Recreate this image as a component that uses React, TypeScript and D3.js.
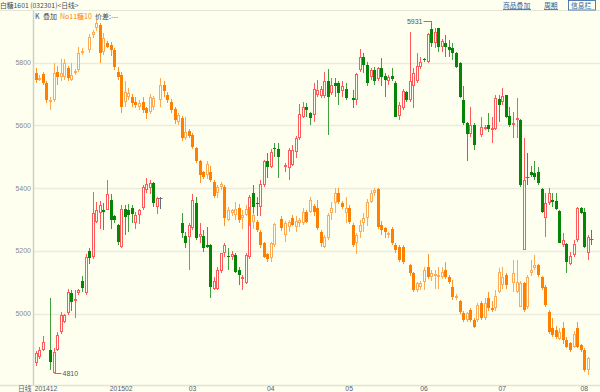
import React from "react";
import * as d3 from "d3";

type K = [number, number, number, number] | null; // open, high, low, close

// 白糖1601 daily candles (open, high, low, close); null = no trading that day
const mainK: K[] = [
  [4844, 4880, 4835, 4874], [4861, 4895, 4855, 4884], [4884, 4929, 4880, 4911], null,
  [4884, 5049, 4820, 4847], [4812, 4890, 4810, 4879], [4884, 4943, 4880, 4932], [4943, 5005, 4935, 4996],
  [4975, 5000, 4970, 4996], [5001, 5080, 4995, 5070], [5065, 5075, 5010, 5038], [5042, 5075, 4985, 5046],
  [5065, 5080, 5060, 5075], [5104, 5120, 5070, 5081], [5065, 5190, 5060, 5182], [5200, 5210, 5160, 5177],
  [5182, 5389, 5175, 5320], [5293, 5355, 5290, 5330], [5320, 5360, 5270, 5348], [5332, 5352, 5267, 5325],
  [5330, 5426, 5330, 5380], [5362, 5380, 5270, 5299], [5311, 5315, 5290, 5299], [5283, 5285, 5220, 5230],
  [5214, 5345, 5210, 5333], [5333, 5345, 5250, 5309], [5330, 5350, 5260, 5314], [5336, 5345, 5290, 5318],
  [5288, 5325, 5270, 5315], [5314, 5335, 5285, 5330], [5336, 5410, 5330, 5405], [5394, 5431, 5385, 5413],
  [5400, 5425, 5380, 5415], [5415, 5420, 5340, 5352], [5341, 5372, 5318, 5368], [5368, 5372, 5335, 5368],
  null, null, null, null, null,
  [5290, 5322, 5240, 5258], [5248, 5261, 5208, 5224], [5244, 5290, 5139, 5283], [5272, 5380, 5267, 5362],
  [5352, 5371, 5235, 5242], [5246, 5288, 5224, 5254], [5249, 5267, 5198, 5208], [5218, 5277, 5208, 5214],
  [5219, 5222, 5049, 5084], [5078, 5118, 5075, 5105], [5078, 5150, 5075, 5139], [5137, 5195, 5129, 5192],
  [5192, 5224, 5182, 5219], [5184, 5208, 5139, 5180], [5182, 5201, 5171, 5190], [5187, 5192, 5129, 5134],
  [5139, 5150, 5091, 5123], [5110, 5123, 5075, 5118], [5097, 5192, 5095, 5187], [5182, 5378, 5175, 5373],
  [5386, 5410, 5277, 5341], [5354, 5373, 5310, 5350], [5341, 5426, 5310, 5413], [5410, 5490, 5405, 5485],
  [5488, 5511, 5431, 5469], [5469, 5524, 5463, 5516], [5528, 5543, 5500, 5524], [5524, 5545, 5431, 5500],
  null,
  [5468, 5479, 5453, 5474], [5463, 5527, 5426, 5522], [5474, 5538, 5471, 5522], [5516, 5565, 5495, 5561],
  [5559, 5668, 5554, 5636], [5628, 5676, 5623, 5658], [5660, 5670, 5628, 5649], [5639, 5644, 5601, 5623],
  [5633, 5736, 5612, 5716], [5697, 5745, 5692, 5713], [5694, 5725, 5688, 5715], [5694, 5771, 5686, 5743],
  [5740, 5779, 5570, 5692], [5702, 5750, 5697, 5729], [5736, 5750, 5692, 5724], [5736, 5743, 5665, 5702],
  [5708, 5740, 5692, 5724], [5715, 5734, 5681, 5686], null,
  [5686, 5713, 5655, 5682], [5681, 5766, 5665, 5763], [5777, 5843, 5771, 5819], [5819, 5830, 5766, 5793],
  [5793, 5803, 5724, 5734], [5755, 5782, 5745, 5777], [5777, 5787, 5729, 5743], [5747, 5785, 5740, 5782],
  [5782, 5814, 5724, 5755], [5758, 5766, 5692, 5745], [5743, 5761, 5729, 5755], [5758, 5782, 5740, 5747],
  [5736, 5740, 5626, 5628], [5630, 5673, 5617, 5665], [5655, 5715, 5649, 5711], [5705, 5708, 5676, 5681],
  [5681, 5896, 5676, 5743], [5724, 5782, 5655, 5768], [5740, 5830, 5734, 5790], [5787, 5819, 5779, 5803],
  [5811, 5814, 5803, 5807], [5803, 5894, 5798, 5891], [5906, 5931, 5849, 5864], [5862, 5910, 5846, 5899],
  [5910, 5910, 5835, 5849], [5849, 5874, 5835, 5870], [5864, 5888, 5819, 5849], [5851, 5872, 5819, 5840],
  [5846, 5862, 5809, 5830], [5830, 5835, 5782, 5785], [5798, 5803, 5686, 5692], [5681, 5724, 5601, 5609],
  [5607, 5612, 5488, 5573], [5573, 5660, 5564, 5601], [5601, 5607, 5522, 5538], null,
  [5570, 5628, 5564, 5596], [5590, 5601, 5585, 5596], [5601, 5639, 5580, 5588], [5585, 5628, 5545, 5591],
  [5588, 5697, 5585, 5686], [5683, 5697, 5612, 5665], [5676, 5718, 5665, 5694], [5697, 5697, 5623, 5628],
  [5630, 5660, 5596, 5601], [5601, 5644, 5559, 5609], [5620, 5686, 5559, 5625], [5617, 5620, 5405, 5410],
  [5203, 5559, 5203, 5426], [5437, 5511, 5410, 5437], [5450, 5471, 5437, 5442], [5447, 5485, 5426, 5437],
  [5453, 5469, 5410, 5416], [5396, 5400, 5320, 5325], [5304, 5384, 5245, 5354], [5354, 5400, 5346, 5386],
  [5362, 5386, 5341, 5357], [5360, 5384, 5330, 5333], [5328, 5330, 5224, 5224], [5219, 5256, 5214, 5235],
  [5222, 5224, 5129, 5166], [5160, 5198, 5155, 5184], [5187, 5235, 5182, 5222], [5235, 5341, 5230, 5336],
  [5338, 5341, 5318, 5320], [5325, 5336, 5208, 5212], [5195, 5251, 5171, 5245], [5237, 5267, 5219, 5237],
];

// No11糖10 overlay, in the chart's plotted units
const overlayK: K[] = [
  [5766, 5782, 5734, 5745], [5748, 5760, 5740, 5752], [5763, 5770, 5728, 5734], [5734, 5740, 5670, 5681],
  [5676, 5690, 5649, 5681], [5681, 5798, 5675, 5766], [5769, 5790, 5730, 5755], [5755, 5810, 5740, 5766],
  [5755, 5810, 5745, 5798], [5782, 5790, 5740, 5750], [5745, 5800, 5740, 5760], [5766, 5780, 5760, 5774],
  [5776, 5850, 5770, 5830], [5832, 5845, 5825, 5838], null, [5840, 5890, 5830, 5883],
  [5888, 5904, 5880, 5898], [5910, 5936, 5900, 5925], [5920, 5925, 5800, 5830], [5835, 5895, 5825, 5880],
  [5862, 5870, 5845, 5851], [5856, 5865, 5820, 5840], [5840, 5845, 5775, 5787], [5771, 5785, 5745, 5755],
  [5760, 5770, 5640, 5660], [5676, 5740, 5660, 5707], [5691, 5720, 5680, 5702], [5691, 5700, 5660, 5670],
  [5676, 5690, 5655, 5665], [5660, 5680, 5650, 5670], [5676, 5690, 5640, 5649], [5654, 5660, 5620, 5638],
  [5644, 5700, 5635, 5692], [5660, 5695, 5650, 5688], null, [5681, 5750, 5660, 5729],
  [5729, 5740, 5690, 5708], [5697, 5705, 5670, 5681], [5676, 5685, 5640, 5649], [5651, 5660, 5605, 5617],
  [5612, 5640, 5600, 5633], [5623, 5630, 5550, 5559], [5559, 5628, 5554, 5580], [5583, 5590, 5560, 5566],
  [5570, 5575, 5525, 5530], [5527, 5530, 5480, 5485], [5485, 5490, 5415, 5442], [5450, 5455, 5430, 5437],
  [5442, 5485, 5430, 5477], [5453, 5470, 5420, 5426], [5421, 5425, 5370, 5376], [5384, 5410, 5370, 5405],
  [5405, 5420, 5395, 5413], [5405, 5410, 5278, 5304], [5299, 5340, 5295, 5330], [5320, 5335, 5310, 5330],
  [5314, 5355, 5300, 5333], [5336, 5350, 5290, 5299], [5304, 5330, 5270, 5314], [5314, 5345, 5310, 5333],
  [5330, 5340, 5280, 5288], [5293, 5320, 5270, 5314], [5293, 5300, 5260, 5267], [5261, 5266, 5210, 5219],
  [5224, 5230, 5176, 5182], [5189, 5192, 5165, 5173], [5176, 5228, 5165, 5224], [5219, 5290, 5214, 5286],
  null, [5301, 5310, 5265, 5272], [5251, 5294, 5230, 5288], [5277, 5298, 5262, 5293],
  [5304, 5315, 5278, 5283], [5277, 5310, 5260, 5296], [5288, 5305, 5275, 5299], [5288, 5336, 5283, 5325],
  [5325, 5330, 5288, 5293], [5325, 5373, 5320, 5362], [5343, 5350, 5310, 5325], [5336, 5362, 5267, 5272],
  [5261, 5266, 5214, 5224], [5214, 5250, 5208, 5245], [5240, 5320, 5235, 5315], [5320, 5355, 5300, 5336],
  [5352, 5400, 5320, 5384], [5384, 5400, 5350, 5357], [5352, 5360, 5335, 5341], [5320, 5373, 5290, 5336],
  [5336, 5345, 5285, 5293], [5283, 5290, 5214, 5219], [5224, 5256, 5190, 5251], [5261, 5300, 5240, 5283],
  [5288, 5320, 5260, 5304], [5304, 5365, 5280, 5357], [5357, 5395, 5352, 5386], [5384, 5400, 5375, 5394],
  [5397, 5400, 5270, 5277], [5283, 5295, 5250, 5267], [5272, 5275, 5240, 5261], [5251, 5262, 5240, 5258],
  [5269, 5275, 5219, 5224], [5219, 5224, 5195, 5203], [5214, 5219, 5165, 5171], [5214, 5219, 5160, 5166],
  null, [5155, 5160, 5120, 5129], [5129, 5134, 5070, 5075], [5075, 5102, 5070, 5097],
  [5086, 5105, 5075, 5099], [5102, 5150, 5075, 5139], [5150, 5190, 5110, 5118], [5118, 5140, 5105, 5129],
  [5120, 5140, 5080, 5128], [5121, 5150, 5080, 5125], [5118, 5150, 5110, 5134], [5139, 5165, 5110, 5118],
  [5118, 5125, 5095, 5102], [5086, 5107, 5044, 5054], [5052, 5062, 5045, 5058], [5040, 5045, 5000, 5006],
  [5003, 5010, 4975, 4980], [4980, 5005, 4975, 5001], [5012, 5018, 4975, 4980], [4980, 4985, 4953, 4959],
  [4980, 5035, 4975, 5028], [5035, 5040, 4980, 4985], [4985, 5050, 4980, 5033], [5049, 5070, 5010, 5017],
  [5019, 5040, 5005, 5012], [5017, 5075, 5010, 5056], [5070, 5145, 5065, 5134], [5092, 5150, 5080, 5118],
  [5123, 5130, 5080, 5092], null, [5097, 5170, 5070, 5129], [5070, 5171, 5065, 5102],
  [5022, 5105, 5020, 5097], [5097, 5102, 5005, 5012], [5022, 5125, 5015, 5118], [5129, 5170, 5120, 5139],
  [5145, 5187, 5140, 5155], [5155, 5160, 5118, 5123], [5118, 5120, 5075, 5081], [5086, 5090, 5020, 5028],
  [5006, 5012, 4935, 4943], [4953, 4985, 4925, 4932], [4948, 4960, 4920, 4927], [4921, 4955, 4915, 4943],
  [4953, 4975, 4905, 4916], [4916, 4925, 4890, 4895], [4906, 4910, 4878, 4884], [4895, 4945, 4890, 4937],
  [4953, 4975, 4890, 4895], [4900, 4905, 4878, 4884], [4884, 4890, 4815, 4820], [4820, 4862, 4805, 4858],
  null,
];

const yTicks = [5000, 5200, 5400, 5600, 5800];
const xTickLabels = ["201412", "201502", "03", "04", "05", "06", "07", "08"];
const xTickIndex = [0, 24, 44, 66, 88, 109, 131, 154];

const W = 600;
const H = 392;
const BG = "#fffff0";
const NUM_FONT = "'Liberation Sans', Arial, sans-serif";
const CJK_FONT = "'Noto Sans CJK SC', 'Liberation Sans', sans-serif";

interface Palette {
  upStroke: string;
  downFill: string;
  downWick: string;
  doji: string;
}

const mainPal: Palette = { upStroke: "#ff5a5a", downFill: "#058505", downWick: "#3f9f3f", doji: "#5f7080" };
const overPal: Palette = { upStroke: "#ffaa55", downFill: "#ff8000", downWick: "#ff9428", doji: "#ffaa55" };

export default function App() {
  const n = mainK.length;
  const x = d3.scaleLinear().domain([0, n - 1]).range([35.7, 35.7 + (n - 1) * 3.562]);
  const y = d3.scaleLinear().domain([4773, 5974]).range([385, 8]);

  const candles = (data: K[], pal: Palette, key: string) =>
    data.map((d, i) => {
      if (!d) return null;
      const [o, h, l, c] = d;
      const cx = Math.round(x(i)) + 0.5;
      const yh = Math.round(y(h));
      const yl = Math.round(y(l));
      const yo = Math.round(y(o));
      const yc = Math.round(y(c));
      if (c === o) {
        return (
          <g key={key + i}>
            <line x1={cx} x2={cx} y1={yh} y2={yl} stroke={pal.doji} strokeWidth={1} />
            <line x1={cx - 2} x2={cx + 2} y1={yo + 0.5} y2={yo + 0.5} stroke={pal.doji} strokeWidth={1} />
          </g>
        );
      }
      if (c > o) {
        const top = yc;
        const bot = Math.max(yo, yc + 2);
        return (
          <g key={key + i}>
            <line x1={cx} x2={cx} y1={yh} y2={top} stroke={pal.upStroke} strokeWidth={1} />
            <line x1={cx} x2={cx} y1={bot} y2={yl} stroke={pal.upStroke} strokeWidth={1} />
            <rect x={cx - 1} y={top + 0.5} width={2} height={bot - top - 1 < 1 ? 1 : bot - top - 1}
              fill={BG} stroke={pal.upStroke} strokeWidth={1} />
          </g>
        );
      }
      const top = yo;
      const bot = Math.max(yc, yo + 1);
      return (
        <g key={key + i}>
          <line x1={cx} x2={cx} y1={yh} y2={yl} stroke={pal.downWick} strokeWidth={1} />
          <rect x={cx - 1.5} y={top} width={3} height={bot - top} fill={pal.downFill} />
        </g>
      );
    });

  // extreme markers
  let hiI = 0, loI = 0, hiV = -Infinity, loV = Infinity;
  mainK.forEach((d, i) => {
    if (!d) return;
    if (d[1] > hiV) { hiV = d[1]; hiI = i; }
    if (d[2] < loV) { loV = d[2]; loI = i; }
  });
  const hx = Math.round(x(hiI)) + 0.5;
  const hy = Math.round(y(hiV)) + 0.5;
  const lx = Math.round(x(loI)) + 0.5;
  const ly = Math.round(y(loV)) + 0.5;

  return (
    <svg width={W} height={H} style={{ position: "absolute", left: 0, top: 0, display: "block" }}>
      <rect x={0} y={0} width={W} height={H} fill={BG} />
      {/* header */}
      <line x1={0} x2={W} y1={10.5} y2={10.5} stroke="#e6e6d6" strokeWidth={1} />
      <text x={0} y={8.3} fontSize={6.8} fontFamily={CJK_FONT} fill="#3a4a5a">白糖1601 (032301)&lt;日线&gt;</text>
      <g fontFamily={CJK_FONT} fontSize={6.8} fill="#2f5f9f">
        <text x={503} y={8.3}>商品叠加</text>
        <line x1={503} x2={531} y1={9.5} y2={9.5} stroke="#2f5f9f" strokeWidth={0.8} />
        <text x={544} y={8.3}>周期</text>
        <line x1={544} x2={558} y1={9.5} y2={9.5} stroke="#2f5f9f" strokeWidth={0.8} />
        <rect x={568.5} y={0.5} width={27} height={9.5} fill="none" stroke="#2f5f9f" strokeWidth={0.8} />
        <text x={571} y={8.3}>信息栏</text>
      </g>
      <text y={18.6} fontFamily={CJK_FONT} fontSize={7}>
        <tspan x={35} fill="#3a4a5a">K</tspan>
        <tspan x={43} fill="#3a4a5a">叠加</tspan>
        <tspan x={60} fill="#ff8000">No11糖10</tspan>
        <tspan x={95} fill="#3a4a5a">价差:</tspan>
        <tspan fill="#2e9e2e">---</tspan>
      </text>

      {/* grid */}
      {yTicks.map((t) => (
        <line key={"g" + t} x1={34} x2={W} y1={Math.round(y(t)) + 0.5} y2={Math.round(y(t)) + 0.5}
          stroke="#ecebdc" strokeWidth={1.5} />
      ))}
      {yTicks.map((t) => (
        <text key={"t" + t} x={31} y={y(t)} dy="0.35em" textAnchor="end" fontSize={7}
          fontFamily={NUM_FONT} fill="#8a8a8a">{t}</text>
      ))}
      <line x1={33.5} x2={33.5} y1={10.5} y2={385} stroke="#cfcfc2" strokeWidth={1.5} />
      <line x1={0} x2={W} y1={385.5} y2={385.5} stroke="#e2e2d2" strokeWidth={1.5} />

      {/* x labels */}
      <text x={18} y={391} fontSize={6.8} fontFamily={CJK_FONT} fill="#556070">日线</text>
      {xTickLabels.map((lab, k) => (
        <text key={"x" + lab} x={k === 0 ? x(xTickIndex[k]) - 1 : x(xTickIndex[k])} y={391}
          textAnchor={k === 0 ? "start" : "middle"} fontSize={6.8} fontFamily={NUM_FONT} fill="#556070">{lab}</text>
      ))}

      {candles(mainK, mainPal, "m")}
      {candles(overlayK, overPal, "o")}

      {/* high / low labels */}
      <polyline points={`${hx - 8},${hy} ${hx},${hy} ${hx},${hy + 2}`} fill="none" stroke="#7a8590" strokeWidth={1} />
      <text x={hx - 9} y={hy} dy="0.35em" textAnchor="end" fontSize={7} fontFamily={NUM_FONT} fill="#4a5868">{hiV}</text>
      <line x1={lx} x2={lx + 7} y1={ly} y2={ly} stroke="#7a8590" strokeWidth={1} />
      <text x={lx + 8} y={ly} dy="0.35em" fontSize={7} fontFamily={NUM_FONT} fill="#4a5868">{loV}</text>
    </svg>
  );
}
